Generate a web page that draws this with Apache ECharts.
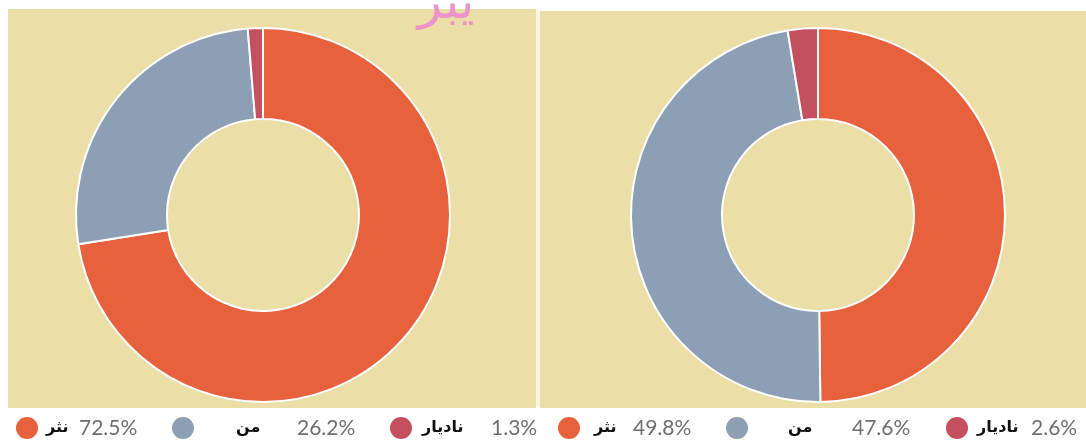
<!DOCTYPE html>
<html>
<head>
<meta charset="utf-8">
<script src="https://cdn.jsdelivr.net/npm/echarts@6/dist/echarts.min.js"></script>
<style>
  html, body { margin: 0; padding: 0; background: #ffffff; }
  #chart { width: 1086px; height: 445px; }
</style>
</head>
<body>
<div id="chart"></div>
<script>
// Category names and shares (%) for the two donuts
const categories = ['نثر', 'من', 'نادیار'];
const leftValues = [72.5, 26.2, 1.3];
const rightValues = [49.8, 47.6, 2.6];
const sliceColors = ['#e8613d', '#8d9fb5', '#c44f5e'];

// Legend layout: icon left edge, padding before the name, width of the name block
const legendLayout = [
  { left: 14,  pad: 2,  nameW: 33 },
  { left: 170, pad: 36, nameW: 61 },
  { left: 388, pad: 4,  nameW: 69 },
  { left: 556, pad: 8,  nameW: 39 },
  { left: 724, pad: 34, nameW: 64 },
  { left: 944, pad: 3,  nameW: 54 }
];

const chart = echarts.init(document.getElementById('chart'), null, { renderer: 'canvas' });

function fmtPct(v) { return v.toFixed(1) + '%'; }

function makeSeries(values, cx) {
  return {
    type: 'pie',
    center: [cx, 215],
    radius: [96, 187],
    startAngle: 90,
    clockwise: true,
    silent: true,
    label: { show: false },
    labelLine: { show: false },
    itemStyle: { borderColor: '#ffffff', borderWidth: 2 },
    data: categories.map((name, i) => ({
      name: name,
      value: values[i],
      itemStyle: { color: sliceColors[i] }
    }))
  };
}

const legendValues = leftValues.concat(rightValues);
const legends = legendLayout.map((lay, k) => {
  const name = categories[k % 3];
  const val = fmtPct(legendValues[k]);
  return {
    data: [name],
    left: lay.left,
    top: 415,
    padding: 0,
    icon: 'circle',
    itemWidth: 24,
    itemHeight: 24,
    selectedMode: false,
    formatter: () => '{n|' + name + '}{v|' + val + '}',
    textStyle: {
      rich: {
        n: {
          fontFamily: 'DejaVu Sans',
          fontWeight: 'bold',
          fontSize: 16,
          color: '#111111',
          width: lay.nameW,
          padding: [0, 0, 0, lay.pad]
        },
        v: {
          fontFamily: 'Lato, DejaVu Sans',
          fontSize: 21,
          color: '#6f6f6f'
        }
      }
    }
  };
});

chart.setOption({
  backgroundColor: '#ffffff',
  animation: false,
  graphic: [
    { type: 'rect', z: -10, shape: { x: 8, y: 9, width: 528, height: 399 }, style: { fill: '#ebdfa7' } },
    { type: 'rect', z: -10, shape: { x: 540, y: 11, width: 546, height: 397 }, style: { fill: '#ebdfa7' } },
    { type: 'rect', z: -10, shape: { x: 536, y: 11, width: 4, height: 396 }, style: { fill: '#fbf6e2' } },
    {
      type: 'text', z: 10, x: 446, y: -20,
      style: { text: 'یبر', font: '50px DejaVu Sans', fill: '#ec93c9', textAlign: 'center' }
    }
  ],
  legend: legends,
  series: [makeSeries(leftValues, 263), makeSeries(rightValues, 818)]
});
</script>
</body>
</html>
